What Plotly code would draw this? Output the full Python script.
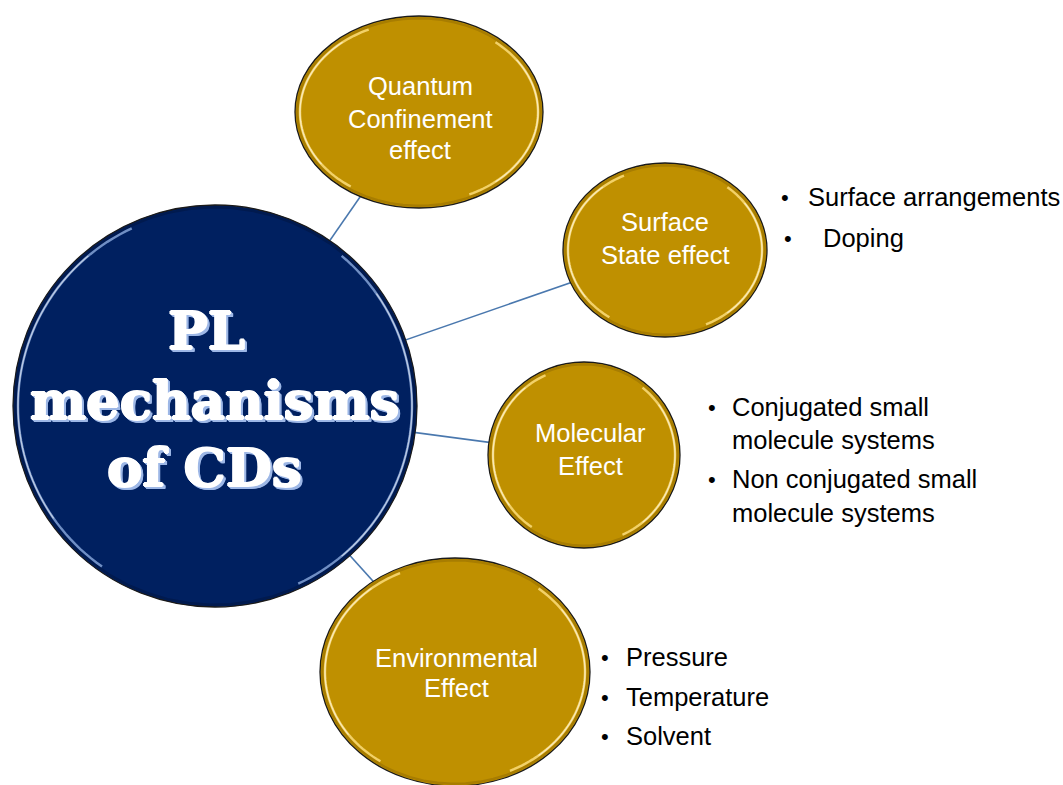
import numpy as np
import plotly.graph_objects as go

# ---- content ----
center_lines = ["PL", "mechanisms", "of CDs"]
node_labels = [
    ["Quantum", "Confinement", "effect"],
    ["Surface", "State effect"],
    ["Molecular", "Effect"],
    ["Environmental", "Effect"],
]
bullet_groups = [
    [],
    ["Surface arrangements", "Doping"],
    ["Conjugated small|molecule systems", "Non conjugated small|molecule systems"],
    ["Pressure", "Temperature", "Solvent"],
]

# ---- layout (pixel geometry of the diagram) ----
W, H = 1063, 785
main_c = (215, 406, 202, 201)           # cx, cy, rx, ry
node_geom = [                            # cx, cy, rx, ry
    (419, 112, 124, 96),
    (665, 250, 102, 87),
    (584, 455, 96, 93),
    (455, 672, 135, 114),
]
label_x = [420, 665, 590, 456]
label_y = [[86, 119, 150], [222, 255], [433, 466], [658, 688]]
bullet_dot_x = [None, [785, 788], [712, 712], [605, 605, 605]]
bullet_txt_x = [None, [806, 821], [730, 730], [624, 624, 624]]
bullet_y = [None, [197, 238], [[407, 440], [479, 513]], [657, 697, 736]]

NAVY = "#002060"
GOLD = "#BF9000"
LINE = "#4A78AE"

fig = go.Figure()
shapes = []
ann = []

# connectors (behind)
for (cx, cy, rx, ry) in node_geom:
    shapes.append(dict(type="line", x0=main_c[0], y0=main_c[1], x1=cx, y1=cy,
                       line=dict(color=LINE, width=1.6), layer="below"))


def ellipse(g, fill):
    cx, cy, rx, ry = g
    return dict(type="circle", x0=cx - rx, x1=cx + rx, y0=cy - ry, y1=cy + ry,
                fillcolor=fill, line=dict(color="#1a1a1a", width=1.3), layer="above")


def arc(g, t0, t1, inset, color, width):
    cx, cy, rx, ry = g
    t = np.radians(np.linspace(t0, t1, 60))
    xs = cx + (rx - inset) * np.cos(t)
    ys = cy - (ry - inset) * np.sin(t)
    p = "M " + " L ".join(f"{x:.2f},{y:.2f}" for x, y in zip(xs, ys))
    return dict(type="path", path=p, line=dict(color=color, width=width), layer="above")


def bevel(g, base, light):
    out = []
    out.append(arc(g, 0, 360, 2.2, base, 2.5))
    out.append(arc(g, 115, 235, 5, light, 2.4))
    out.append(arc(g, -65, 50, 5, light, 2.4))
    out.append(arc(g, 130, 215, 5, "rgba(255,255,255,0.55)", 1.2))
    out.append(arc(g, -50, 35, 5, "rgba(255,255,255,0.55)", 1.2))
    return out

shapes.append(ellipse(main_c, NAVY))
shapes += bevel(main_c, "#001a4f", "rgba(150,180,230,0.75)")
for g in node_geom:
    shapes.append(ellipse(g, GOLD))
    shapes += bevel(g, "#a87d00", "rgba(255,225,130,0.8)")

# center title (white, thickened, with light-blue drop shadow)
title_y = [330, 400, 467]
title_x = [206, 214, 204]
thick = "1px 0 0 #fff, -1px 0 0 #fff, 0 1px 0 #fff, 0 -1px 0 #fff"
blue = "3px 3px 0 #9db7e6, 2px 3px 0 #9db7e6, 3px 2px 0 #9db7e6, 1px 2px 0 #9db7e6, 2px 1px 0 #9db7e6"
for txt, x, y in zip(center_lines, title_x, title_y):
    ann.append(dict(x=x, y=y, text=txt, showarrow=False, xanchor="center", yanchor="middle",
                    font=dict(family="DejaVu Serif", size=53, color="white", weight="bold",
                              shadow=thick + ", " + blue)))

# node labels
for lines, x, ys in zip(node_labels, label_x, label_y):
    for txt, y in zip(lines, ys):
        ann.append(dict(x=x, y=y, text=txt, showarrow=False, xanchor="center", yanchor="middle",
                        font=dict(family="Liberation Sans, Arial", size=25.5, color="white")))

# bullets
for gi, items in enumerate(bullet_groups):
    for ii, item in enumerate(items):
        parts = item.split("|")
        ys = bullet_y[gi][ii]
        if not isinstance(ys, list):
            ys = [ys]
        ann.append(dict(x=bullet_dot_x[gi][ii], y=ys[0], text="•", showarrow=False,
                        xanchor="center", yanchor="middle",
                        font=dict(family="Liberation Sans, Arial", size=22, color="black")))
        for part, y in zip(parts, ys):
            ann.append(dict(x=bullet_txt_x[gi][ii], y=y, text=part, showarrow=False,
                            xanchor="left", yanchor="middle",
                            font=dict(family="Liberation Sans, Arial", size=25.5, color="black")))

fig.update_layout(
    width=W, height=H, margin=dict(l=0, r=0, t=0, b=0),
    paper_bgcolor="white", plot_bgcolor="white",
    xaxis=dict(range=[0, W], visible=False, fixedrange=True),
    yaxis=dict(range=[H, 0], visible=False, fixedrange=True),
    shapes=shapes, annotations=ann, showlegend=False,
)
fig.write_html("out.html", config={"displayModeBar": False},
               post_script="document.body.style.margin='0';document.body.style.overflow='hidden';")
